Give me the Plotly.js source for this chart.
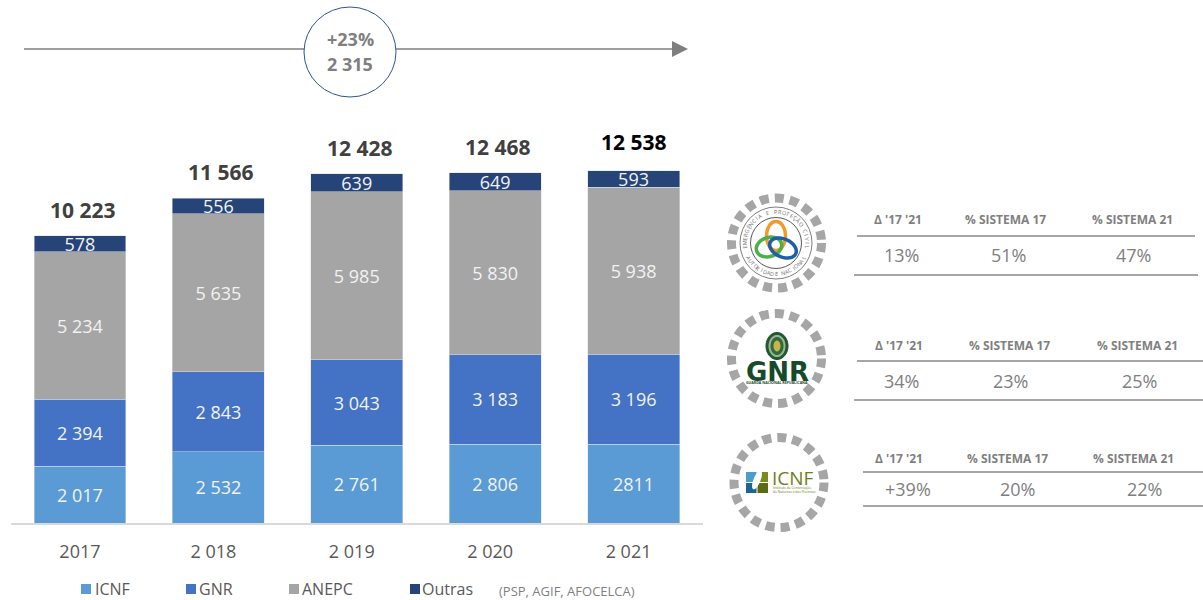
<!DOCTYPE html>
<html><head><meta charset="utf-8">
<script src="https://cdn.plot.ly/plotly-3.0.1.min.js"></script>
<style>html,body{margin:0;padding:0;background:#fff;overflow:hidden}#c{width:1203px;height:600px}</style>
</head><body><div id="c"></div>
<script>
const years = ["2017","2 018","2 019","2 020","2 021"];
const icnf = [2017,2532,2761,2806,2811];
const gnr = [2394,2843,3043,3183,3196];
const anepc = [5234,5635,5985,5830,5938];
const outras = [578,556,639,649,593];
const totals = [10223,11566,12428,12468,12538];
const totalLabels = ["10 223","11 566","12 428","12 468","12 538"];
const icnfLabels = ["2 017","2 532","2 761","2 806","2811"];
const gnrLabels = ["2 394","2 843","3 043","3 183","3 196"];
const anepcLabels = ["5 234","5 635","5 985","5 830","5 938"];
const outrasLabels = ["578","556","639","649","593"];
const legendNames = ["ICNF","GNR","ANEPC","Outras"];
const colors = ["#5b9bd5","#4472c4","#a5a5a5","#264478"];
const tableHeaders = ["Δ '17 '21","% SISTEMA 17","% SISTEMA 21"];
const anepcRow = ["13%","51%","47%"];
const gnrRow = ["34%","23%","25%"];
const icnfRow = ["+39%","20%","22%"];
const pos = years.map((_,i)=>i);

const F = "'Open Sans', sans-serif";
const X = x => x/1203, Y = y => 1-y/600;
const shapes = [], ann = [];
const txt = (x,y,text,size,color,o={}) => ann.push(Object.assign({xref:'paper',yref:'paper',x:X(x),y:Y(y),text,showarrow:false,xanchor:'center',yanchor:'middle',
  font:{family:F,size,color},borderpad:0},o));
const line = (x0,y0,x1,y1,color,width) => shapes.push({type:'line',xref:'paper',yref:'paper',x0:X(x0),y0:Y(y0),x1:X(x1),y1:Y(y1),line:{color,width}});
const circ = (cx,cy,rx,ry,lineOpt,fill) => shapes.push({type:'circle',xref:'paper',yref:'paper',x0:X(cx-rx),x1:X(cx+rx),y0:Y(cy+ry),y1:Y(cy-ry),line:lineOpt,fillcolor:fill||'rgba(0,0,0,0)'});
const rect = (x0,y0,x1,y1,fill) => shapes.push({type:'rect',xref:'paper',yref:'paper',x0:X(x0),x1:X(x1),y0:Y(y1),y1:Y(y0),line:{width:0},fillcolor:fill});
const poly = (pts,style) => shapes.push(Object.assign({type:'path',xref:'paper',yref:'paper',path:'M'+pts.map(p=>X(p[0])+','+Y(p[1])).join('L')},style));
const ellipsePath = (cx,cy,rx,ry,rot) => {const a=rot*Math.PI/180,p=[];for(let i=0;i<=48;i++){const t=i/48*2*Math.PI,u=rx*Math.cos(t),v=ry*Math.sin(t);p.push([cx+u*Math.cos(a)-v*Math.sin(a),cy+u*Math.sin(a)+v*Math.cos(a)]);}return p;};

/* top arrow + bubble */
line(24,49,673,49,'#7f7f7f',1.5);
poly([[672,41],[688,49],[672,57],[672,41]],{fillcolor:'#7f7f7f',line:{width:0}});
circ(350,52,46,45,{color:'#2f5597',width:1},'#ffffff');
txt(350,39,'+23%',18,'#7f7f7f',{font:{family:F,size:18,color:'#7f7f7f',weight:700}});
txt(350,64,'2 315',18,'#7f7f7f',{font:{family:F,size:18,color:'#7f7f7f',weight:700}});

/* totals */
totals.forEach((t,i)=>ann.push({xref:'x',yref:'y',x:pos[i],y:t,text:totalLabels[i],showarrow:false,xanchor:'center',yanchor:'middle',
  xshift:i<4?3:0,yshift:i<4?26:29,font:{family:F,size:21,weight:700,color:i<4?'#404040':'#000000'}}));

/* legend */
[[81,95],[186,199],[289,302],[410,422]].forEach((p,i)=>{
  rect(p[0],584,p[0]+10,594,colors[i]);
  txt(p[1]-1,589,legendNames[i],16,'#595959',{xanchor:'left'});
});
txt(498,591,'(PSP, AGIF, AFOCELCA)',13,'#7f7f7f',{xanchor:'left'});

/* tables */
function table(hs,hy,l1,vs,vy,l2,row){
  tableHeaders.forEach((h,i)=>{
    txt(hs[i],hy,h,12,'#7f7f7f',{font:{family:F,size:12,color:'#7f7f7f',weight:700}});
    txt(vs[i],vy,row[i],18,'#7f7f7f');
  });
  line(l1[0],l1[2],l1[1],l1[2],'#a6a6a6',2);
  line(l2[0],l2[2],l2[1],l2[2],'#a6a6a6',2);
}
table([898,1006,1132],219,[857,1195,236],[901,1008,1133],255,[854,1198,275],anepcRow);
table([899,1009,1137],345,[857,1203,361],[901,1011,1139],381,[854,1203,400],gnrRow);
table([899,1007,1133],458,[863,1203,472],[908,1017,1144],489,[863,1203,506],icnfRow);

/* dashed rings */
const ring={color:'#a6a6a6',width:9,dash:'9px,6px'};
circ(776.5,243,45,45,ring);
circ(776.5,358.5,45,45,ring);
circ(779,482.5,45,45,ring);

/* ANEPC emblem */
circ(776,243,36,36,{color:'#7f7f7f',width:1});
circ(776,243,25.5,25.5,{color:'#595959',width:1});
poly(ellipsePath(776,236,9.5,14.5,0),{line:{color:'#f39a2c',width:3.5}});
poly(ellipsePath(769,247,13,9.5,-18),{line:{color:'#4caf4a',width:3.5}});
poly(ellipsePath(783,248,14,9,24),{line:{color:'#1f5fa8',width:3.5}});
function arcText(s,cx,cy,r,start,end,inside){
  const ch=[...s];
  ch.forEach((c,i)=>{
    const d=start+(end-start)*i/(ch.length-1), a=d*Math.PI/180;
    const x=cx+r*Math.sin(a), y=cy-r*Math.cos(a);
    txt(x,y,c,5.5,'#6e6e6e',{textangle:inside?d+180:d});
  });
}
arcText('EMERGÊNCIA E PROTEÇÃO CIVIL',776,243,31,-98,98,false);
arcText('AUTORIDADE NACIONAL',776,243,31,242,118,true);

/* GNR emblem */
poly(ellipsePath(777,346,11,13.5,0),{fillcolor:'#1f5a34',line:{color:'#1b4d2b',width:1}});
poly(ellipsePath(777,346,8.5,11,0),{fillcolor:'#9fb48f',line:{width:0}});
poly(ellipsePath(777,346,6.5,9,0),{fillcolor:'#2f6b3c',line:{width:0}});
poly(ellipsePath(777,346,3.5,5.5,0),{fillcolor:'#c8b44a',line:{width:0}});
txt(777,371.5,'GNR',26,'#174a2a',{font:{family:"'DejaVu Sans',sans-serif",size:26,weight:700,color:'#174a2a'}});
txt(777,382,'GUARDA NACIONAL REPUBLICANA',3.6,'#174a2a',{font:{family:F,size:3.6,weight:700,color:'#174a2a'}});

/* ICNF emblem */
rect(746,472,756.5,482,'#4a9cc9');
rect(746,483,756.5,493,'#1a6690');
rect(757.5,483,768,493,'#5c6a10');
rect(757.5,472,768,482,'#7a8a1e');
poly(ellipsePath(757,480,3.5,10,22),{fillcolor:'#ffffff',line:{width:0}});
txt(771,478,'ICNF',19,'#6e7f1a',{xanchor:'left'});
txt(772,489.5,'Instituto da Conservação<br>da Natureza e das Florestas',3.3,'#6e7f1a',{xanchor:'left',align:'left'});

const mk=(name,y,text,i)=>({type:'bar',name,x:pos,y,text,textposition:'inside',insidetextanchor:'middle',constraintext:'none',textangle:0,
  insidetextfont:{family:F,size:18,color:'#f2f2f2'},marker:{color:colors[i],line:{color:'#d9dfe8',width:0.5}},hoverinfo:'x+y+name'});
const data=[mk(legendNames[0],icnf,icnfLabels,0),mk(legendNames[1],gnr,gnrLabels,1),mk(legendNames[2],anepc,anepcLabels,2),mk(legendNames[3],outras,outrasLabels,3)];
const layout={width:1203,height:600,margin:{l:0,r:0,t:0,b:0},paper_bgcolor:'#fff',plot_bgcolor:'#fff',barmode:'stack',bargap:0.336,showlegend:false,
  xaxis:{type:'linear',domain:[X(10.75),X(702.75)],range:[-0.5,4.5],tickmode:'array',tickvals:pos.map(i=>i===0?i:i-0.036),ticktext:years,tickfont:{family:F,size:18,color:'#595959'},ticks:'outside',ticklen:11,tickcolor:'rgba(0,0,0,0)',showline:true,linecolor:'#d9d9d9',linewidth:2,showgrid:false,zeroline:false,fixedrange:true},
  yaxis:{domain:[Y(523),Y(123)],range:[0,14235],visible:false,fixedrange:true},
  shapes,annotations:ann};
Plotly.newPlot('c',data,layout,{displayModeBar:false,staticPlot:true});
</script></body></html>
